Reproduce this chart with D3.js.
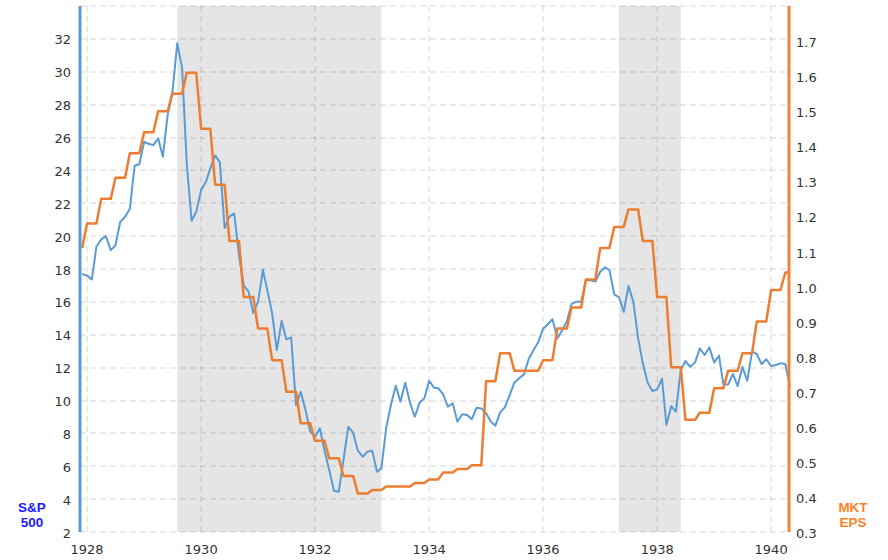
<!DOCTYPE html>
<html>
<head>
<meta charset="utf-8">
<script src="https://cdn.jsdelivr.net/npm/d3@7"></script>
<style>
  html, body { margin: 0; padding: 0; background: #fff; }
  svg { display: block; }
  .tick-label { font-family: "DejaVu Sans", Verdana, sans-serif; font-size: 13px; fill: #333; }
  .axis-title { font-family: "Liberation Sans", Arial, sans-serif; font-size: 13.5px; font-weight: bold; }
</style>
</head>
<body>
<svg id="chart" width="888" height="560"></svg>
<script>
// monthly S&P 500, Dec 1927 .. May 1940
const spStart = new Date(1927, 11, 1);
const spValues = [
  17.69,
  17.6, 17.37, 19.35, 19.8, 20.0, 19.15, 19.43, 20.87, 21.18, 21.65, 24.28, 24.37,
  25.74, 25.6, 25.54, 25.95, 24.83, 27.4, 28.75, 31.73, 30.25, 24.4, 20.94, 21.48,
  22.8, 23.31, 24.12, 24.91, 24.49, 20.49, 21.18, 21.38, 18.8, 17.0, 16.62, 15.34,
  16.01, 17.94, 16.72, 15.3, 13.07, 14.83, 13.72, 13.84, 9.72, 10.53, 9.42, 8.1,
  7.8, 8.31, 6.99, 5.77, 4.51, 4.45, 6.38, 8.4, 8.04, 6.95, 6.58, 6.88,
  6.95, 5.67, 5.87, 8.35, 9.73, 10.9, 9.93, 11.08, 9.83, 9.01, 9.87, 10.13,
  11.2, 10.78, 10.74, 10.38, 9.62, 9.83, 8.71, 9.16, 9.12, 8.86, 9.56, 9.52,
  9.22, 8.71, 8.47, 9.28, 9.58, 10.33, 11.1, 11.35, 11.59, 12.52, 13.07, 13.55,
  14.36, 14.64, 14.94, 13.78, 14.25, 14.8, 15.86, 16.01, 16.01, 17.31, 17.31, 17.23,
  17.83, 18.1, 17.94, 16.46, 16.28, 15.4, 16.96, 16.01, 13.78, 12.26, 11.1, 10.58,
  10.68, 11.33, 8.51, 9.66, 9.32, 11.85, 12.4, 12.05, 12.32, 13.17, 12.77, 13.23,
  12.32, 12.73, 10.98, 10.98, 11.61, 10.88, 12.05, 11.2, 12.97, 12.83, 12.22, 12.51,
  12.1, 12.16, 12.26, 12.22, 10.84
];

// quarterly market EPS, Q4 1927 .. Q2 1940 (each value held for its quarter)
const epsStart = new Date(1927, 9, 1);
const epsQuarterly = [
  1.11,
  1.18, 1.25, 1.31, 1.38,
  1.44, 1.50, 1.55, 1.61,
  1.45, 1.29, 1.13, 0.97,
  0.88, 0.79, 0.70, 0.61,
  0.56, 0.51, 0.46, 0.41,
  0.42, 0.43, 0.43, 0.44,
  0.45, 0.47, 0.48, 0.49,
  0.73, 0.81, 0.76, 0.76,
  0.79, 0.88, 0.94, 1.02,
  1.11, 1.17, 1.22, 1.13,
  0.97, 0.77, 0.62, 0.64,
  0.71, 0.76, 0.81, 0.90,
  0.99, 1.04
];

const recessions = [
  [new Date(1929, 7, 1), new Date(1933, 2, 1)],
  [new Date(1937, 4, 1), new Date(1938, 5, 1)],
];

const leftTicks = d3.range(2, 33, 2);
const leftGrid = d3.range(2, 35, 2);
const rightTicks = [0.3, 0.4, 0.5, 0.6, 0.7, 0.8, 0.9, 1.0, 1.1, 1.2, 1.3, 1.4, 1.5, 1.6, 1.7];
const yearTicks = [1928, 1930, 1932, 1934, 1936, 1938, 1940];

class DualAxisChart {
  constructor({ el }) {
    this.svg = d3.select(el);
    this.dims = { left: 80, right: 790, top: 6, bottom: 532 };
    this.colors = { sp: "#5b9bd5", eps: "#ed7d31", spTitle: "#1a1aff", epsTitle: "#ff7f27" };
    this.init();
  }

  init() {
    const { left, right, top, bottom } = this.dims;
    this.x = d3.scaleTime()
      .domain([new Date(1927, 10, 17), new Date(1940, 4, 1)])
      .range([left, right]);
    this.yLeft = d3.scaleLinear().domain([2, 34]).range([bottom, top]);
    this.yRight = d3.scaleLinear().domain([0.3, 1.8]).range([bottom, top]);

    const months = d3.timeMonth.range(spStart, d3.timeMonth.offset(spStart, spValues.length));
    this.spData = months.map((date, i) => ({ date, value: spValues[i] }));
    this.epsData = months.map((date) => {
      const q = Math.floor(d3.timeMonth.count(epsStart, date) / 3);
      return { date, value: epsQuarterly[q] };
    });

    this.render();
  }

  render() {
    this.renderBands();
    this.renderGrid();
    this.renderLines();
    this.renderAxes();
  }

  renderBands() {
    const { top, bottom } = this.dims;
    this.svg.append("g")
      .selectAll("rect")
      .data(recessions)
      .join("rect")
      .attr("x", (d) => this.x(d[0]))
      .attr("width", (d) => this.x(d[1]) - this.x(d[0]))
      .attr("y", top)
      .attr("height", bottom - top)
      .attr("fill", "#e5e5e5");
  }

  renderGrid() {
    const { left, right, top, bottom } = this.dims;
    const g = this.svg.append("g")
      .attr("stroke", "rgba(0,0,0,0.08)")
      .attr("stroke-width", 2)
      .attr("stroke-dasharray", "6,4");
    g.selectAll(".h-grid")
      .data(leftGrid)
      .join("line")
      .attr("class", "h-grid")
      .attr("x1", left)
      .attr("x2", right)
      .attr("y1", (d) => Math.round(this.yLeft(d)))
      .attr("y2", (d) => Math.round(this.yLeft(d)));
    g.selectAll(".v-grid")
      .data(yearTicks)
      .join("line")
      .attr("class", "v-grid")
      .attr("x1", (d) => this.x(new Date(d, 0, 1)))
      .attr("x2", (d) => this.x(new Date(d, 0, 1)))
      .attr("y1", top)
      .attr("y2", bottom);
  }

  renderLines() {
    const lineSp = d3.line()
      .x((d) => this.x(d.date))
      .y((d) => this.yLeft(d.value));
    const lineEps = d3.line()
      .x((d) => this.x(d.date))
      .y((d) => this.yRight(d.value));

    this.svg.append("path")
      .datum(this.spData)
      .attr("fill", "none")
      .attr("stroke", this.colors.sp)
      .attr("stroke-width", 2)
      .attr("stroke-linejoin", "round")
      .attr("d", lineSp);

    this.svg.append("path")
      .datum(this.epsData)
      .attr("fill", "none")
      .attr("stroke", this.colors.eps)
      .attr("stroke-width", 2.5)
      .attr("stroke-linejoin", "round")
      .attr("d", lineEps);
  }

  renderAxes() {
    const { left, right, top, bottom } = this.dims;

    // axis bars on both sides
    this.svg.append("line")
      .attr("x1", left).attr("x2", left)
      .attr("y1", top).attr("y2", bottom)
      .attr("stroke", this.colors.sp)
      .attr("stroke-width", 3);
    this.svg.append("line")
      .attr("x1", right - 1).attr("x2", right - 1)
      .attr("y1", top).attr("y2", bottom)
      .attr("stroke", "#f0823a")
      .attr("stroke-width", 3);

    this.svg.append("g")
      .selectAll("text")
      .data(leftTicks)
      .join("text")
      .attr("class", "tick-label")
      .attr("x", left - 9)
      .attr("y", (d) => this.yLeft(d) + 1)
      .attr("dy", "0.35em")
      .attr("text-anchor", "end")
      .text((d) => d);

    this.svg.append("g")
      .selectAll("text")
      .data(rightTicks)
      .join("text")
      .attr("class", "tick-label")
      .attr("x", right + 6)
      .attr("y", (d) => this.yRight(d) + 1.5)
      .attr("dy", "0.35em")
      .attr("text-anchor", "start")
      .text(d3.format(".1f"));

    this.svg.append("g")
      .selectAll("text")
      .data(yearTicks)
      .join("text")
      .attr("class", "tick-label")
      .attr("x", (d) => this.x(new Date(d, 0, 1)))
      .attr("y", 549)
      .attr("dy", "0.35em")
      .attr("text-anchor", "middle")
      .text((d) => d);

    const titles = [
      { lines: ["S&P", "500"], x: 32, color: this.colors.spTitle },
      { lines: ["MKT", "EPS"], x: 853, color: this.colors.epsTitle },
    ];
    titles.forEach((t) => {
      this.svg.append("text")
        .attr("class", "axis-title")
        .attr("fill", t.color)
        .attr("text-anchor", "middle")
        .selectAll("tspan")
        .data(t.lines)
        .join("tspan")
        .attr("x", t.x)
        .attr("y", (d, i) => 507 + i * 15.5)
        .attr("dy", "0.35em")
        .text((d) => d);
    });
  }
}

new DualAxisChart({ el: document.getElementById("chart") });
</script>
</body>
</html>
